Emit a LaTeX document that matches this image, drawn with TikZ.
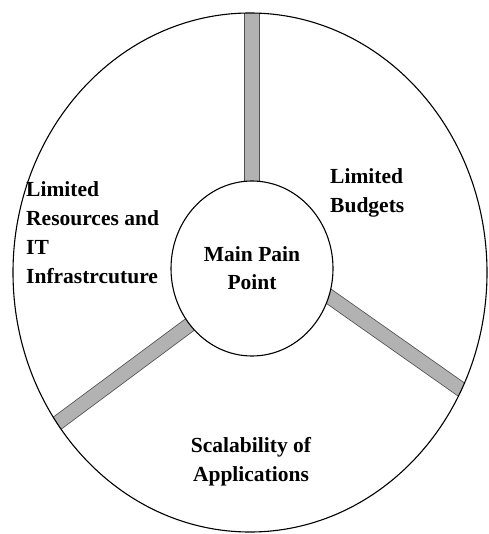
\documentclass[tikz,border=0pt]{standalone}
\usepackage{fontspec}
\setmainfont{Liberation Serif}
\usetikzlibrary{shapes.geometric, positioning, backgrounds}
\definecolor{spokegray}{RGB}{178, 178, 178}
\definecolor{spokeedge}{RGB}{80, 80, 80}

\begin{document}
\begin{tikzpicture}[x=1pt, y=-1pt,
                    rim/.style={draw, ellipse, line width=1.1pt, minimum width=474pt, minimum height=519pt, inner sep=0pt},
                    hub/.style={draw, ellipse, line width=1.1pt, fill=white, minimum width=162pt, minimum height=175pt, inner sep=0pt, align=center, font=\fontsize{21.5}{28}\selectfont\bfseries},
                    spoke/.style={draw=spokeedge, line width=0.8pt, double=spokegray, double distance=13.5pt, shorten <=-14pt, shorten >=-20pt},
                    lbl/.style={inner sep=0pt, font=\fontsize{21.5}{29}\selectfont\bfseries}
                ]
                \useasboundingbox (0,0) rectangle (488,534);

                % --- Outer ring and centre ---
                \node[rim] (rim) at (250,272.5) {};
                \node[hub] (hub) at (252,268.5) {Main Pain\\Point};

                % --- Spokes ---
                \begin{scope}[on background layer]
                \clip (250,272.5) ellipse [x radius=237, y radius=259.5];
                \draw[spoke] (hub.90) -- (hub.90 |- rim.north);
                \draw[spoke] (hub.-20.6) -- (rim.-29.8);
                \draw[spoke] (hub.222.4) -- (rim.218.8);
                \end{scope}

                % --- Labels ---
                \node[lbl, align=left, anchor=north west] (budgets) at (330,168) {Limited\\Budgets};
                \node[lbl, align=left, anchor=north west] (resources) at (26,181) {Limited\\Resources and\\IT\\Infrastrcuture};
                \node[lbl, align=center, anchor=north] (scalability) at (251,437) {Scalability of\\Applications};

                \end{tikzpicture}
\end{document}
